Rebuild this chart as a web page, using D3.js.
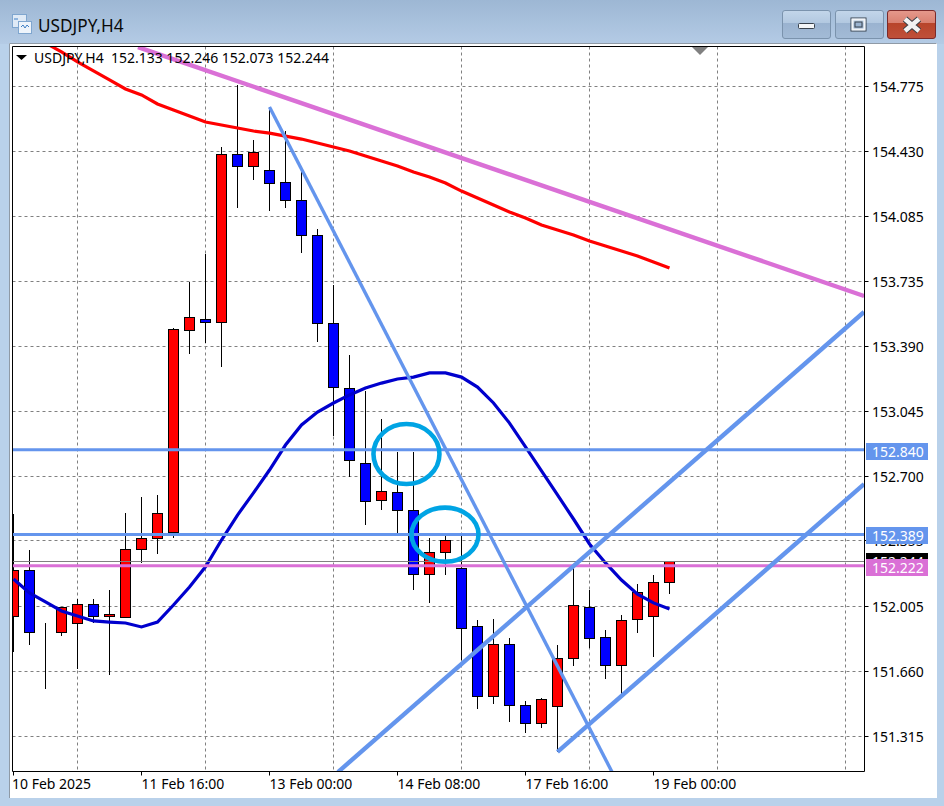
<!DOCTYPE html>
<html><head><meta charset="utf-8">
<script src="https://cdn.jsdelivr.net/npm/d3@7/dist/d3.min.js"></script>
<style>html,body{margin:0;padding:0;background:#b9d1ea;overflow:hidden}svg{display:block}text{font-family:"Noto Sans",sans-serif}</style>
</head><body><svg id="c" width="944" height="806"></svg>
<script>
const opens  =[151.954,152.194,151.864,151.864,151.912,152.018,151.949,151.944,152.306,152.365,152.397,153.473,153.536,153.520,154.415,154.351,154.325,154.261,154.170,153.979,153.515,153.164,152.764,152.572,152.610,152.514,152.173,152.295,152.205,151.896,151.523,151.805,151.475,151.379,151.470,151.730,152.002,151.842,151.693,151.933,151.954,152.133];
const highs  =[152.50,152.306,151.922,151.939,152.050,152.050,152.098,152.508,152.593,152.604,153.489,153.734,153.883,154.458,154.783,154.495,154.666,154.543,154.320,154.016,153.718,153.345,153.153,153.009,152.833,152.828,152.375,152.381,152.381,151.938,151.943,151.842,151.502,151.518,151.800,152.216,152.098,151.885,151.960,152.130,152.173,152.246];
const lows   =[151.763,151.800,151.566,151.853,151.677,151.917,151.640,151.944,152.237,152.285,152.375,153.355,153.409,153.281,154.133,154.277,154.117,154.133,153.893,153.414,152.918,152.695,152.444,152.519,152.397,152.093,152.024,152.173,151.720,151.464,151.486,151.390,151.331,151.358,151.235,151.688,151.784,151.619,151.539,151.864,151.741,152.073];
const closes =[152.199,151.864,151.864,152.000,152.018,151.954,151.960,152.306,152.365,152.498,153.478,153.542,153.520,154.415,154.351,154.426,154.256,154.170,153.979,153.515,153.169,152.780,152.562,152.620,152.514,152.178,152.295,152.354,151.890,151.523,151.805,151.475,151.384,151.512,151.730,152.008,151.837,151.693,151.928,152.082,152.135,152.244];
const maRed =[155.007,154.959,154.906,154.858,154.810,154.762,154.730,154.682,154.650,154.618,154.586,154.570,154.554,154.538,154.527,154.511,154.495,154.474,154.453,154.431,154.405,154.378,154.351,154.320,154.293,154.261,154.218,154.181,154.144,154.106,154.074,154.037,154.011,153.984,153.952,153.925,153.899,153.872,153.840,153.808];
const maRedStart=2;
const maBlue=[152.151,152.077,152.029,151.981,151.954,151.928,151.922,151.917,151.896,151.922,152.013,152.109,152.216,152.359,152.492,152.610,152.732,152.865,152.972,153.041,153.089,153.132,153.169,153.195,153.217,153.227,153.249,153.249,153.227,153.174,153.089,152.982,152.855,152.727,152.599,152.471,152.338,152.237,152.146,152.071,152.024,151.992];
const priceTicks=[154.775,154.430,154.085,153.735,153.390,153.045,152.700,152.355,152.005,151.660,151.315];
const timeBars=[0,8,16,24,32,40];
const timeLabels=["10 Feb 2025","11 Feb 16:00","13 Feb 00:00","14 Feb 08:00","17 Feb 16:00","19 Feb 00:00"];
const gridBars=[4,12,20,28,36,44,52];
const hLevels=[152.840,152.389,152.222];
const hColors=["#6495ed","#6495ed","#da70d6"];
const trends=[
 {a:[16,154.666],b:[37.41,151.123],c:"#6495ed",w:3.4},
 {a:[20.28,151.123],b:[53.16,153.574],c:"#6495ed",w:4.4},
 {a:[34,151.230],b:[53.16,152.657],c:"#6495ed",w:4.4},
 {a:[7.78,154.985],b:[53.16,153.659],c:"#da70d6",w:4.4}
];
const ellipses=[{bar:24.56,p:152.817,rx:33,ry:30},{bar:26.97,p:152.388,rx:33.5,ry:27}];
const lastPrice=152.244;
const header="USDJPY,H4  152.133 152.246 152.073 152.244";
const title="USDJPY,H4";

const svg=d3.select("#c");
const W=944,H=806,L=12.5,R=864.5,T=46.5,B=771.5;
const x=d3.scaleLinear().domain([0,1]).range([13.5,29.5]);
const y=d3.scaleLinear().domain([154.775,151.315]).range([86.5,736]);
const snap=v=>Math.round(v-0.5)+0.5;
const defs=svg.append("defs");
const g1=defs.append("linearGradient").attr("id","top").attr("x1",0).attr("x2",0).attr("y1",0).attr("y2",1);
g1.append("stop").attr("offset",0).attr("stop-color","#9db7d4");
g1.append("stop").attr("offset",1).attr("stop-color","#b4cbe5");
const btnG=(id,a,b,c,d)=>{const g=defs.append("linearGradient").attr("id",id).attr("x1",0).attr("x2",0).attr("y1",0).attr("y2",1);
 g.append("stop").attr("offset",0).attr("stop-color",a);g.append("stop").attr("offset",.45).attr("stop-color",b);
 g.append("stop").attr("offset",.45).attr("stop-color",c);g.append("stop").attr("offset",1).attr("stop-color",d);};
btnG("bn","#c3d6ea","#b2c8e0","#9ab3d0","#a3bbd6");
btnG("bc","#e5998c","#d98070","#b8442a","#c0503a");
defs.append("clipPath").attr("id","plot").append("rect").attr("x",13).attr("y",47).attr("width",851).attr("height",724);

// window chrome
svg.append("rect").attr("width",W).attr("height",H).attr("fill","#b9d1ea");
svg.append("rect").attr("width",W).attr("height",44).attr("fill","url(#top)");
svg.append("rect").attr("x",9).attr("y",43).attr("width",928).attr("height",755).attr("fill","#fff");
svg.append("path").attr("d","M9.5 798V43.5H936.5").attr("fill","none").attr("stroke","#8f9aa6");
// icon
const ic=svg.append("g");
ic.append("rect").attr("x",12.5).attr("y",14.5).attr("width",14).attr("height",13).attr("fill","#dfeaf6").attr("stroke","#7fa6cf");
ic.append("rect").attr("x",18.5).attr("y",21.5).attr("width",13).attr("height",12).attr("fill","#eef4fb").attr("stroke","#7fa6cf");
ic.append("path").attr("d","M14 19h4M21 27l2-2 2 3 2-3 2 2").attr("stroke","#3f7fc4").attr("fill","none");
svg.append("text").attr("x",38).attr("y",32).attr("font-size",17.2).attr("fill","#0a0a0a").text(title);
// buttons
[[782,"bn"],[835,"bn"],[887,"bc"]].forEach(([bx,f])=>{
 svg.append("rect").attr("x",bx+.5).attr("y",10.5).attr("width",48).attr("height",28).attr("rx",2.5)
   .attr("fill",`url(#${f})`).attr("stroke",f=="bc"?"#7a2a2a":"#7b93ad");
});
svg.append("rect").attr("x",798.5).attr("y",23.5).attr("width",16).attr("height",5).attr("rx",1).attr("fill","#f4f6f8").attr("stroke","#39424d");
svg.append("rect").attr("x",851).attr("y",18).attr("width",15).attr("height",13).attr("fill","none").attr("stroke","#39424d").attr("stroke-width",1);
svg.append("rect").attr("x",852.5).attr("y",19.5).attr("width",12).attr("height",10).attr("fill","none").attr("stroke","#f2f4f6").attr("stroke-width",2);
svg.append("rect").attr("x",855).attr("y",22).attr("width",7).attr("height",5).attr("fill","#9ab3d0").attr("stroke","#39424d");
svg.append("path").attr("d","M905 19L919 31M919 19L905 31").attr("stroke","#3a3f45").attr("stroke-width",6.5);
svg.append("path").attr("d","M905 19L919 31M919 19L905 31").attr("stroke","#f2f2f2").attr("stroke-width",4.5);

// chart
const plot=svg.append("g").attr("clip-path","url(#plot)");
const dash="3,3";
plot.append("g").selectAll("line").data(priceTicks).join("line")
 .attr("x1",L).attr("x2",R).attr("y1",d=>snap(y(d))).attr("y2",d=>snap(y(d)))
 .attr("stroke","#808080").attr("stroke-dasharray",dash);
plot.append("g").selectAll("line").data(gridBars).join("line")
 .attr("x1",d=>x(d)).attr("x2",d=>x(d)).attr("y1",T).attr("y2",B)
 .attr("stroke","#808080").attr("stroke-dasharray",dash);
// candles
const cs=plot.append("g").attr("shape-rendering","crispEdges");
const idx=d3.range(opens.length);
cs.selectAll("line").data(idx).join("line")
 .attr("x1",i=>x(i)).attr("x2",i=>x(i)).attr("y1",i=>snap(y(highs[i]))).attr("y2",i=>snap(y(lows[i])))
 .attr("stroke","#000").attr("stroke-width",1);
cs.selectAll("rect").data(idx).join("rect")
 .attr("x",i=>x(i)-5).attr("width",10)
 .attr("y",i=>snap(y(Math.max(opens[i],closes[i]))))
 .attr("height",i=>Math.max(0,snap(y(Math.min(opens[i],closes[i])))-snap(y(Math.max(opens[i],closes[i])))))
 .attr("fill",i=>closes[i]>=opens[i]?"#ff0000":"#0000ff")
 .attr("stroke","#000").attr("stroke-width",1);
// moving averages
const ln=d3.line().x(d=>x(d[0])).y(d=>y(d[1]));
plot.append("path").attr("d",ln(maRed.map((v,i)=>[i+maRedStart,v]))).attr("fill","none").attr("stroke","#ff0000").attr("stroke-width",3.2);
plot.append("path").attr("d",ln(maBlue.map((v,i)=>[i,v]))).attr("fill","none").attr("stroke","#0000cd").attr("stroke-width",3.2);
// last price
plot.append("line").attr("x1",L).attr("x2",R).attr("y1",snap(y(lastPrice))).attr("y2",snap(y(lastPrice))).attr("stroke","#808080");
// levels
plot.append("g").selectAll("line").data(hLevels).join("line")
 .attr("x1",L).attr("x2",R).attr("y1",d=>y(d)).attr("y2",d=>y(d)).attr("stroke",(d,i)=>hColors[i]).attr("stroke-width",3);
// trends
plot.append("g").selectAll("line").data(trends).join("line")
 .attr("x1",d=>x(d.a[0])).attr("y1",d=>y(d.a[1])).attr("x2",d=>x(d.b[0])).attr("y2",d=>y(d.b[1]))
 .attr("stroke",d=>d.c).attr("stroke-width",d=>d.w);
// ellipses
plot.append("g").selectAll("ellipse").data(ellipses).join("ellipse")
 .attr("cx",d=>x(d.bar)).attr("cy",d=>y(d.p)).attr("rx",d=>d.rx).attr("ry",d=>d.ry)
 .attr("fill","none").attr("stroke","#00a4e4").attr("stroke-width",4.6);
// marker + header
svg.append("path").attr("d","M692 47H708L700 55Z").attr("fill","#808080");
svg.append("path").attr("d","M16 55H27L21.5 60Z").attr("fill","#000");
svg.append("text").attr("x",34).attr("y",63).attr("font-size",14).attr("xml:space","preserve").style("white-space","pre").attr("fill","#000").text(header);
// frame
svg.append("path").attr("d",`M${L} ${B}V${T}H${R}V${B}Z`).attr("fill","none").attr("stroke","#000");
// price axis
svg.append("g").selectAll("line").data(priceTicks).join("line")
 .attr("x1",R).attr("x2",R+4).attr("y1",d=>snap(y(d))).attr("y2",d=>snap(y(d))).attr("stroke","#000");
svg.append("g").selectAll("text").data(priceTicks).join("text")
 .attr("x",872).attr("y",d=>y(d)+5.7).attr("font-size",14).attr("fill","#000").text(d=>d.toFixed(3));
// time axis
svg.append("g").selectAll("line").data(timeBars).join("line")
 .attr("x1",d=>x(d)).attr("x2",d=>x(d)).attr("y1",B).attr("y2",B+4).attr("stroke","#000");
svg.append("g").selectAll("text").data(timeBars).join("text")
 .attr("x",d=>d==0?12:x(d)).attr("y",789).attr("font-size",14).attr("fill","#000").text((d,i)=>timeLabels[i]);
// price tags
const tag=(p,fill,fg,top,dy)=>{const c=y(p);
 svg.append("rect").attr("x",866).attr("y",Math.round(c)-7-top).attr("width",62).attr("height",17+top).attr("fill",fill);
 svg.append("text").attr("x",872).attr("y",c+dy).attr("font-size",14).attr("fill",fg).text(p.toFixed(3));};
tag(lastPrice,"#000","#fff",2,5.7);
hLevels.forEach((p,i)=>tag(p,hColors[i],"#fff",0,7));
</script></body></html>
